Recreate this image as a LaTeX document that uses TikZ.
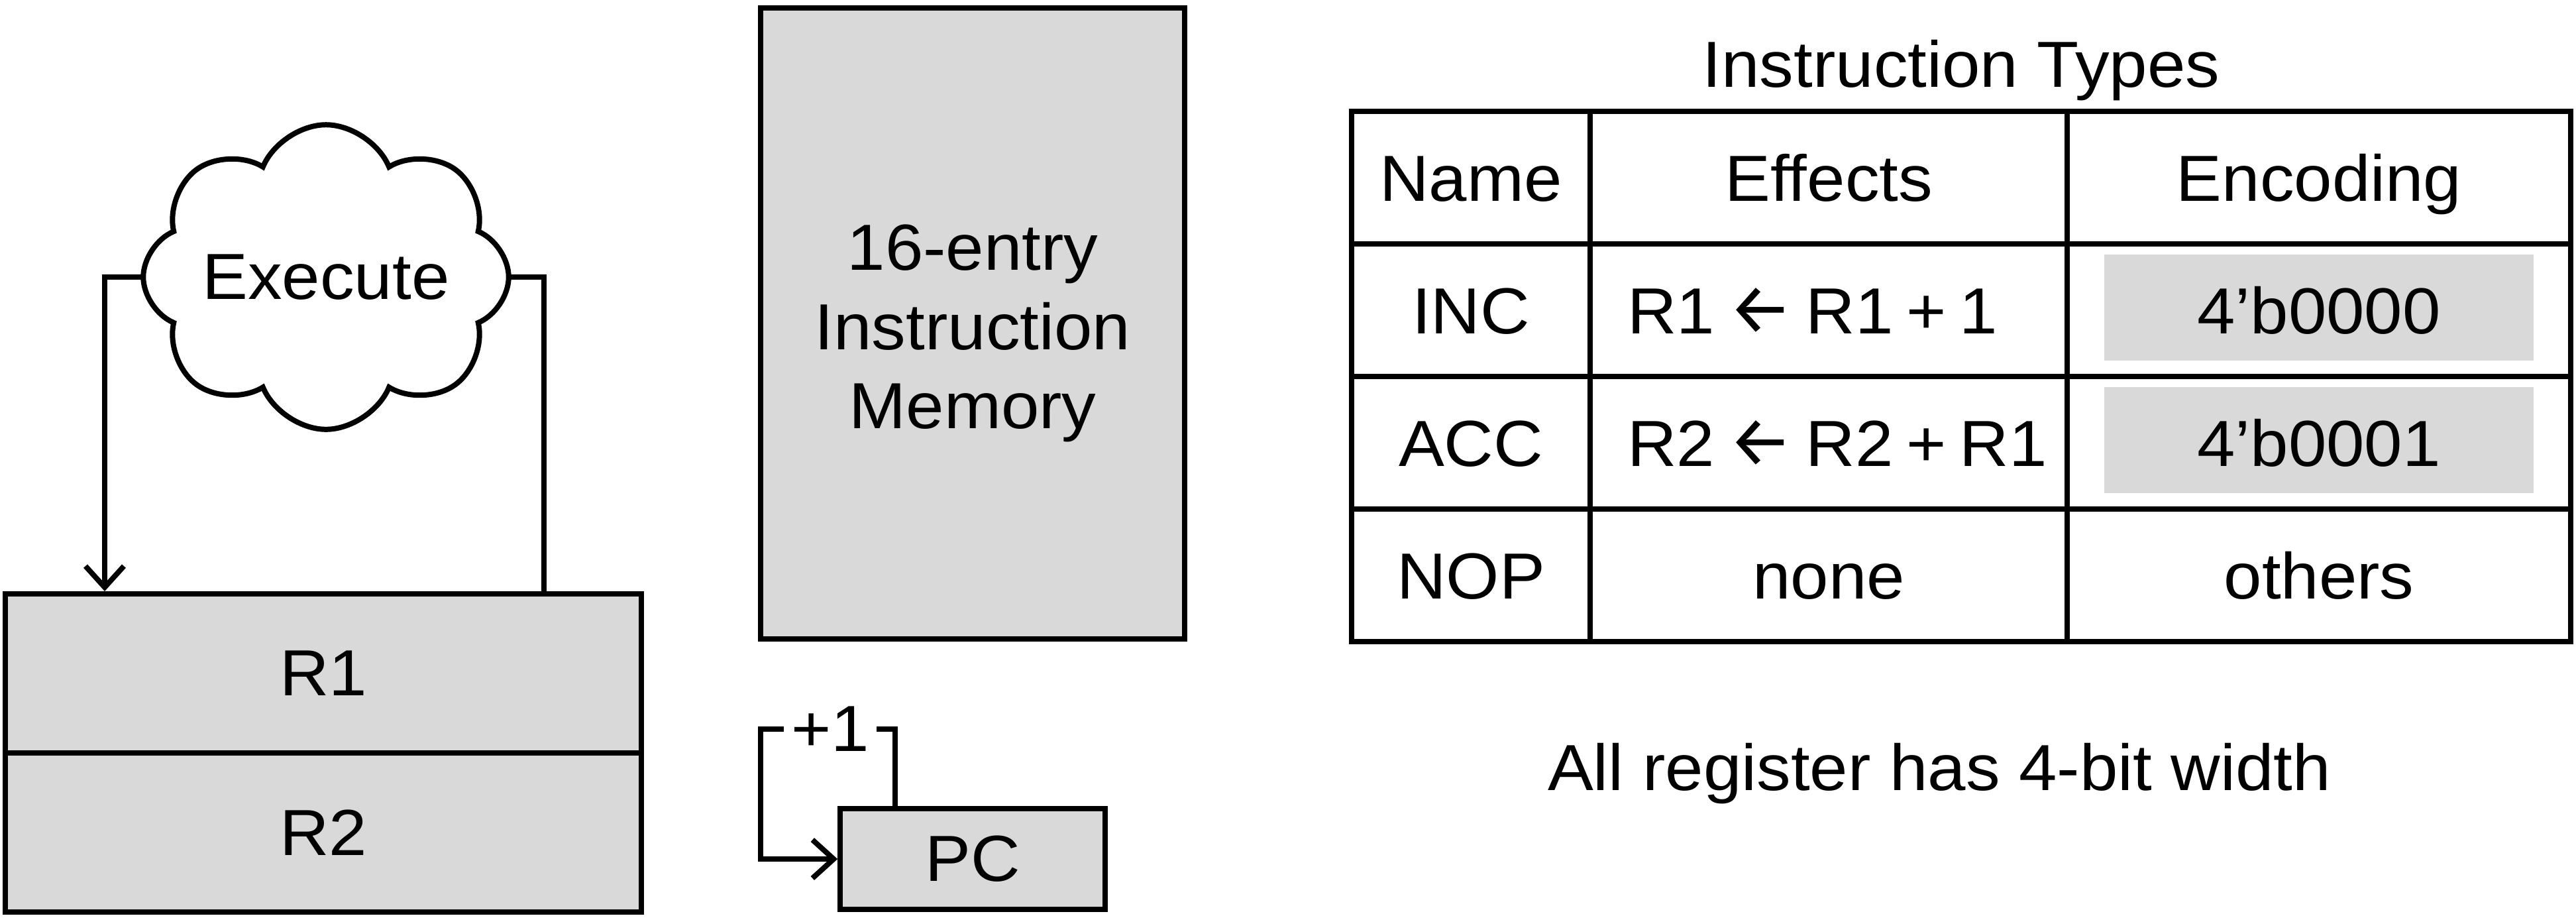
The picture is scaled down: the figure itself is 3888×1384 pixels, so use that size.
\documentclass[tikz,border=0pt]{standalone}
\usepackage{fontspec}
\setmainfont{Liberation Sans}[FakeStretch=1.05]
\newfontfamily\arrowfont{Fira Sans}[Scale=1.1]
\newcommand{\larr}{{\arrowfont ←}}
\newcommand{\tightspace}{\spaceskip=0.1cm\relax}
\usetikzlibrary{shapes.symbols,arrows.meta}
\pgfdeclarelayer{bg}
\pgfsetlayers{bg,main}
\definecolor{boxgray}{HTML}{D9D9D9}
\begin{document}
\begin{tikzpicture}[x=0.005cm,y=-0.005cm,
  every node/.style={font=\fontsize{14}{16.9}\selectfont, inner sep=0pt},
  lw/.style={line width=0.04cm},
  box/.style={draw, lw, fill=boxgray, inner sep=0pt},
  wire/.style={lw},
  arr/.style={lw,-{Straight Barb[length=0.16cm,width=0.29cm]}},
  txt/.style={anchor=base},
  efftxt/.style={anchor=base west}]
\useasboundingbox (0,0) rectangle (3888,1384);

% registers
\node[box, minimum width=4.8cm, minimum height=1.2cm] (r1) at (488,1016) {R1};
\node[box, minimum width=4.8cm, minimum height=1.2cm] (r2) at (488,1256) {R2};
\coordinate (regin) at (158,892);
\coordinate (regout) at (821,892);

% execute cloud
\node[cloud, draw, lw, fill=white, cloud puffs=8, cloud puff arc=135,
      cloud ignores aspect, minimum width=2.76cm, minimum height=2.3cm] (ex) at (492,418) {Execute};
\begin{pgfonlayer}{bg}
\draw[arr] (ex.center) -| (regin);
\draw[wire] (ex.center) -| (regout);
\end{pgfonlayer}

% instruction memory
\node[box, minimum width=3.2cm, minimum height=4.76cm] (mem) at (1468,488) {};
\node[align=center, font=\fontsize{14}{17}\selectfont] (memtxt) at (1468,503) {16-entry\\Instruction\\Memory};

% PC
\node[box, minimum width=2cm, minimum height=0.76cm] (pc) at (1468,1296) {PC};
\coordinate (pcin) at (1148,1296);
\coordinate (pcout) at (1351,1216);
\node[inner xsep=0.05cm] (inc) at (1253,1100) {+1};
\draw[wire] (pcout) |- (inc.east);
\draw[arr] (inc.west) -| (pcin) -- (pc.west);

% table
\fill[boxgray] (3176,384) rectangle (3824,544);
\fill[boxgray] (3176,584) rectangle (3824,744);
\draw[lw] (2040,168) rectangle (3880,968);
\draw[lw] (2400,168) -- (2400,968);
\draw[lw] (3120,168) -- (3120,968);
\draw[lw] (2040,368) -- (3880,368);
\draw[lw] (2040,568) -- (3880,568);
\draw[lw] (2040,768) -- (3880,768);

\node[txt] (title) at (2960,131) {Instruction Types};
\node[txt] (hname) at (2220,303) {Name};
\node[txt] (heff) at (2760,303) {Effects};
\node[txt] (henc) at (3500,303) {Encoding};
\node[txt] (n1) at (2220,503) {INC};
\node[efftxt] (e1) at (2455,503) {\tightspace R1 \larr{} R1 + 1};
\node[txt] (c1) at (3500,503) {4’b0000};
\node[txt] (n2) at (2220,703) {ACC};
\node[efftxt] (e2) at (2455,703) {\tightspace R2 \larr{} R2 + R1};
\node[txt] (c2) at (3500,703) {4’b0001};
\node[txt] (n3) at (2220,903) {NOP};
\node[txt] (e3) at (2760,903) {none};
\node[txt] (c3) at (3500,903) {others};

\node[txt] (note) at (2927,1192) {All register has 4-bit width};
\end{tikzpicture}
\end{document}
